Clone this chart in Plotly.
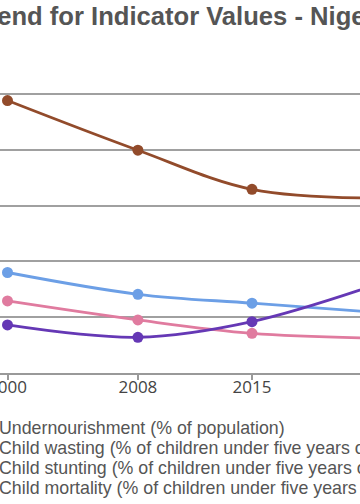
import plotly.graph_objects as go

years = [2000, 2008, 2015, 2023]
series_names = [
    "Undernourishment (% of population)",
    "Child wasting (% of children under five years old)",
    "Child stunting (% of children under five years old)",
    "Child mortality (% of children under five years old)",
]
undernourishment = [12.9, 9.5, 7.1, 6.2]
child_wasting = [18.0, 14.1, 12.5, 10.8]
child_stunting = [48.8, 39.9, 32.9, 31.3]
child_mortality = [8.6, 6.4, 9.2, 16.2]
series_values = [undernourishment, child_wasting, child_stunting, child_mortality]
colors = ["#e07b9f", "#6c9fe6", "#924b2b", "#6538b5"]
tick_years = [2000, 2008, 2015, 2023]
title_text = "Trend for Indicator Values - Niger"

W, H = 360, 504
T, B = 38, 131
PH = H - T - B

fig = go.Figure()
for name, vals, c in zip(series_names, series_values, colors):
    fig.add_trace(go.Scatter(
        x=years, y=vals, name=name, mode="lines+markers",
        line=dict(color=c, width=2.8, shape="spline"),
        marker=dict(color=c, size=11),
        showlegend=False,
    ))

px_per_year = 16.3
x0 = 2000 - 7.5 / px_per_year
x1 = x0 + W / px_per_year


def py(ypx):
    # pixel row -> paper y
    return (H - B - ypx) / PH


annots = [dict(text="<b>" + title_text + "</b>", xref="paper", yref="paper",
               x=-29 / W, xanchor="left", y=py(16), yanchor="middle",
               showarrow=False,
               font=dict(family="Arial, Liberation Sans", size=25.6, color="#555"))]
for i, name in enumerate(series_names):
    annots.append(dict(text=name, xref="paper", yref="paper",
                       x=-3.5 / W, xanchor="left", y=py(428 + 20 * i), yanchor="middle",
                       showarrow=False,
                       font=dict(family="Arial, Liberation Sans", size=17.8, color="#555")))

fig.update_layout(
    width=W, height=H,
    margin=dict(l=0, r=0, t=T, b=B, autoexpand=False),
    plot_bgcolor="white", paper_bgcolor="white",
    showlegend=False,
    hovermode=False,
    xaxis=dict(range=[x0, x1], tickvals=tick_years, ticktext=[str(t) for t in tick_years],
               showgrid=False, showline=True, linecolor="#999", linewidth=1.5,
               ticks="outside", ticklen=5, tickcolor="#999", tickwidth=1.5,
               ticklabeloverflow="allow", ticklabelstandoff=-7,
               tickfont=dict(family="Open Sans", size=17, color="#444")),
    yaxis=dict(range=[0, 60], dtick=10, showgrid=True, gridcolor="#a0a0a0", gridwidth=1.8,
               zeroline=False, showticklabels=False),
    annotations=annots,
)
fig.write_html("out.html", config={"displayModeBar": False},
               post_script="document.body.style.margin='0';")
